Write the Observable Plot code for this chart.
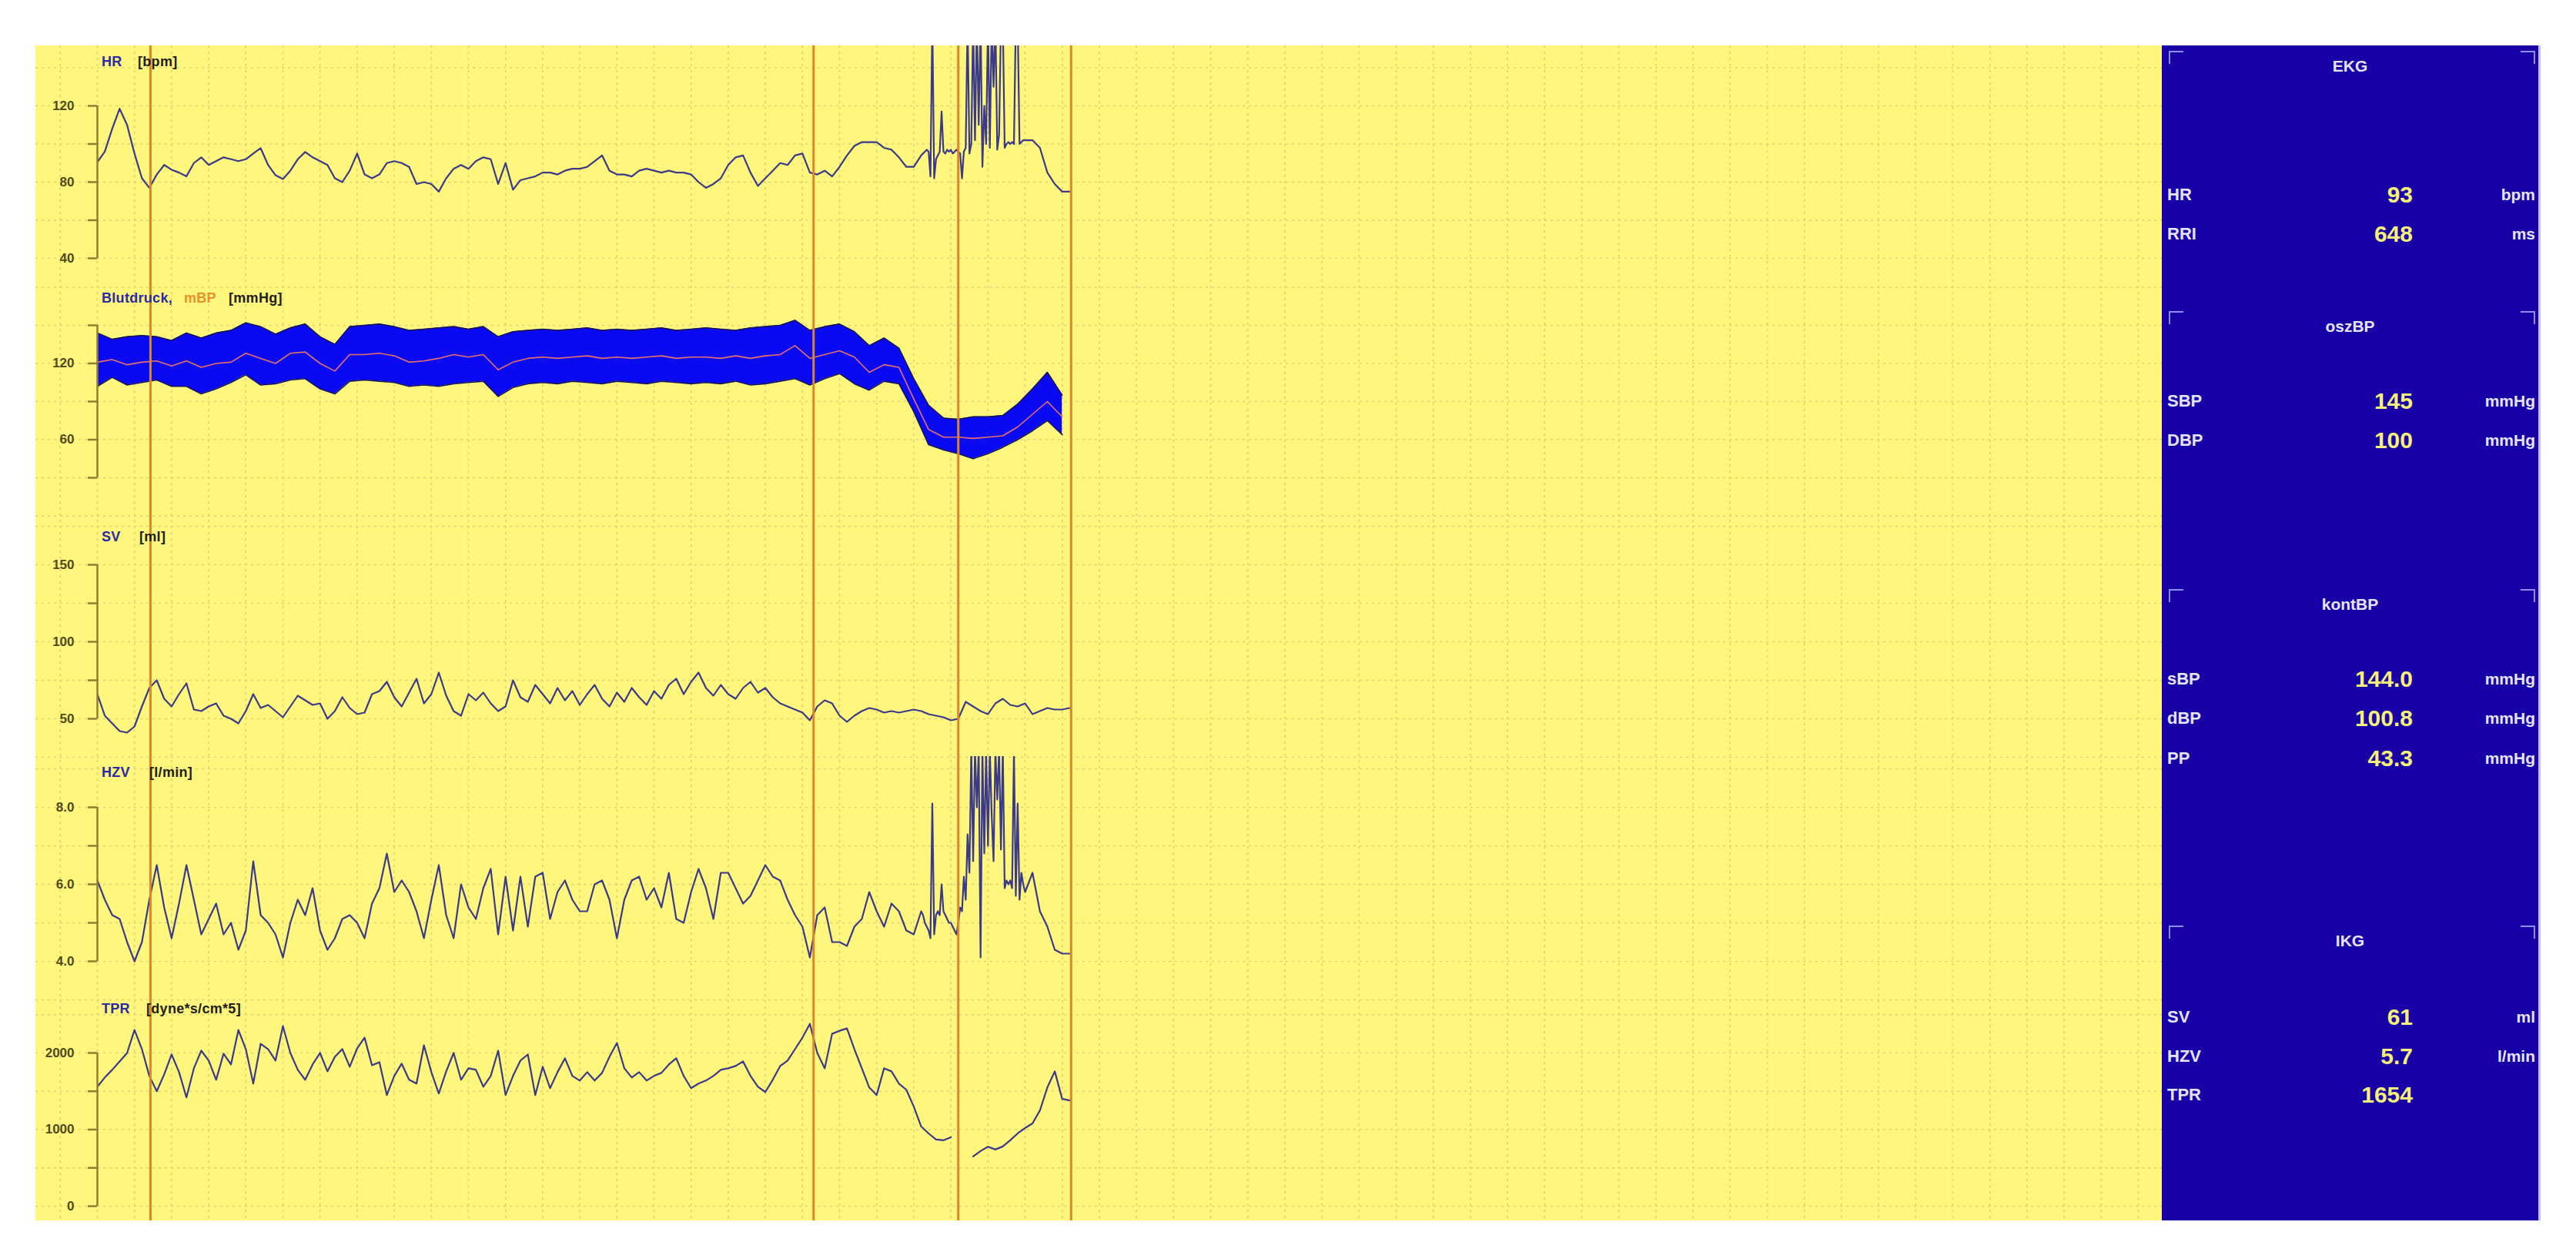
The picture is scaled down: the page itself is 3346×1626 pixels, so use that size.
<!DOCTYPE html>
<html>
<head>
<meta charset="utf-8">
<script src="https://cdn.jsdelivr.net/npm/d3@7"></script>
<script src="https://cdn.jsdelivr.net/npm/@observablehq/plot@0.6"></script>
<style>
  html, body { margin: 0; padding: 0; background: #ffffff; }
  body { width: 3346px; height: 1626px; position: relative; overflow: hidden; font-family: "Liberation Sans", Arial, sans-serif; }
  #chart { position: absolute; left: 46px; top: 59px; width: 2762px; height: 1526px; background: #FFF67E; overflow: hidden; }
  #chart svg { position: absolute; left: 0; top: 0; }
  .lbl { position: absolute; font-weight: bold; font-size: 18px; line-height: 18px; white-space: nowrap; letter-spacing: 0.3px; }
  #panel { position: absolute; left: 2808px; top: 59px; width: 489px; height: 1526px; background: #1800A6; border-right: 3px solid #c4bdf2; overflow: hidden; }
  .br { position: absolute; width: 17px; height: 15px; border-top: 2px solid #8d8df5; }
  .brl { border-left: 2px solid #8d8df5; }
  .brr { border-right: 2px solid #8d8df5; }
  .ptitle { position: absolute; left: 0; width: 489px; text-align: center; color: #e4e4fa; font-weight: bold; font-size: 21px; line-height: 22px; }
  .plab { position: absolute; left: 7px; color: #e4e4fa; font-weight: bold; font-size: 22px; line-height: 24px; }
  .pval { position: absolute; right: 163px; color: #f4f07a; font-weight: bold; font-size: 30px; line-height: 32px; text-align: right; }
  .punit { position: absolute; right: 4px; color: #e4e4fa; font-weight: bold; font-size: 21px; line-height: 24px; text-align: right; }
</style>
</head>
<body>
<div id="chart"></div>
<div id="panel"></div>
<script>
// ---------------- data (time in s) ----------------
const DT = 2;          // main samples: HR, SV, HZV, TPR (t = 0 .. 220 for HR/HZV, 0 .. 262 for SV/TPR)
const DT_BP = 4;       // blood pressure band (t = 0 .. 260)
const BURST_T0 = 222;  // arrhythmic burst, sampled finer
const DT_BURST = 0.5;  // t = 222 .. 250
const TAIL_T0 = 252;   // t = 252 .. 262, step DT

const hr = [
  90.5,96,108,118.5,110,95,82,77,84,89,
  86.5,85,83,90,93,89,91,93,92,91,
  92,95,97.8,89,83.6,81.6,86,92,95.8,93,
  91,89,82,80,86,95,84,82,84,90,
  91,90,88,79,80,79,75,82,87,89,
  87,91,93,92,79,90,76,81,82,83,
  85,85,84,86,87,87,88,91,94,86,
  84,84,83,86,87,86,85,86,85,85,
  84,80,77,79,82,89,93,94,85,78,
  82,86,90,89,94,95,85,84,86,83,
  88,94,99,101,101,101,98,97,93,88,
  88
];
const hrBurst = [
  94,95,96,97,96,83,165,82,92,94,
  96,117,96,95,97,96,97,95,96,97,
  96,95,82,96,98,165,95,100,165,102,
  165,110,165,88,120,100,165,98,165,130,
  165,97,105,165,165,98,100,101,100,101,
  100,165,165,100,101,102,102
];
const hrTail = [102,98,85,79,75,75];

const sbp = [
  144,139,141,142,141,138,144,140,144,146,
  152,149,143,148,151,141,135,149,150,151,
  149,146,147,148,149,147,149,141,145,146,
  147,146,147,148,146,147,146,147,148,146,
  147,148,147,146,148,149,150,154,146,149,
  151,145,134,140,132,108,87,77,76,78,
  78,79,88,100,113,95
];
const dbp = [
  102,109,103,105,107,102,102,96,100,105,
  111,103,104,107,108,100,96,106,107,106,
  105,102,103,102,104,105,106,94,101,104,
  105,104,106,105,104,106,105,104,106,105,
  104,105,104,106,103,104,106,108,103,108,
  112,104,99,106,104,82,56,52,49,45,
  49,54,60,67,75,64
];
const mbp = [
  121,123,119,121,122,118,122,117,120,121,
  128,124,120,128,129,120,114,127,127,128,
  126,121,122,124,127,125,127,115,121,124,
  125,124,125,126,124,125,124,125,126,124,
  125,125,124,126,124,126,127,134,124,127,
  130,125,113,119,117,92,68,62,62,61,
  62,63,70,80,90,78
];

const sv = [
  66,52,47,42,41,45,58,70,75,63,
  58,66,73,56,55,58,60,52,50,47,
  55,66,57,59,55,51,58,65,62,59,
  60,50,55,64,57,53,54,66,68,74,
  64,58,67,76,60,66,80,65,55,52,
  66,62,67,60,55,58,75,64,61,72,
  66,60,70,62,68,59,66,72,63,58,
  67,61,70,64,59,68,63,72,76,66,
  74,80,70,65,72,66,63,70,74,67,
  70,64,60,58,56,54,49,58,62,60,
  52,48,52,55,57,56,54,55,54,55,
  56,55,53,52,51,49,50,61,58,55,
  53,60,63,59,58,60,53,55,57,56,
  56,57
];

const hzv = [
  6.1,5.6,5.2,5.1,4.5,4.0,4.5,5.6,6.5,5.4,
  4.6,5.5,6.5,5.6,4.7,5.1,5.5,4.7,5.0,4.3,
  4.8,6.6,5.2,5.0,4.7,4.1,5.0,5.6,5.2,5.9,
  4.8,4.3,4.6,5.1,5.2,5.0,4.6,5.5,5.9,6.8,
  5.8,6.1,5.8,5.3,4.6,5.6,6.5,5.2,4.6,6.0,
  5.4,5.1,5.9,6.4,4.7,6.2,4.8,6.2,4.9,6.2,
  6.3,5.1,5.8,6.1,5.6,5.3,5.3,6.0,6.1,5.6,
  4.6,5.6,6.1,6.2,5.6,5.9,5.4,6.3,5.1,5.0,
  5.8,6.4,5.9,5.1,6.3,6.3,5.9,5.5,5.7,6.1,
  6.5,6.2,6.1,5.6,5.2,4.9,4.1,5.2,5.4,4.5,
  4.5,4.4,4.9,5.1,5.8,5.3,4.9,5.5,5.3,4.8,
  4.7
];
const hzvBurst = [
  5.3,5.2,5.0,4.9,4.8,4.6,8.1,4.7,5.2,5.3,
  5.2,6.0,5.3,5.2,5.1,5.0,5.0,4.9,4.8,4.7,
  5.0,5.4,5.3,6.2,5.6,7.3,6.3,9.5,6.6,9.5,
  8.0,9.5,4.1,9.5,6.8,9.5,7.0,9.5,7.8,6.6,
  9.5,8.2,9.5,6.9,9.5,5.9,6.1,6.0,6.1,5.9,
  9.5,5.7,8.1,5.6,6.3,6.0,5.8
];
const hzvTail = [6.3,5.3,4.9,4.3,4.2,4.2];

const tpr = [
  1560,1680,1780,1890,2000,2300,2050,1700,1500,1720,
  1980,1750,1420,1800,2030,1900,1650,1990,1850,2300,
  2050,1600,2120,2050,1900,2350,2000,1780,1650,1850,
  2000,1760,1950,2050,1820,2060,2200,1840,1880,1450,
  1700,1860,1650,1600,2100,1750,1470,1760,2000,1650,
  1800,1780,1560,1700,2030,1450,1700,1900,1980,1450,
  1820,1540,1750,1930,1700,1640,1750,1640,1740,1950,
  2130,1800,1680,1750,1640,1700,1740,1850,1930,1700,
  1540,1600,1640,1700,1780,1800,1830,1890,1700,1560,
  1490,1650,1830,1900,2050,2200,2380,2000,1800,2250,
  2290,2320,2050,1800,1550,1450,1800,1760,1600,1520,
  1300,1040,950,870,860,900,null,null,650,720,
  776,740,780,860,950,1020,1080,1250,1550,1760,
  1400,1380
];

const eventTimes = [14.3, 193, 232, 262.4];

// axis ticks and labels per panel
const hrTicks = [120,100,80,60,40],        hrLabels = [120,80,40];
const bpTicks = [150,120,90,60,30],        bpLabels = [120,60];
const svTicks = [150,125,100,75,50],       svLabels = [150,100,50];
const hzvTicks = [8,7,6,5,4],              hzvLabels = [8,6,4];
const tprTicks = [2000,1500,1000,500,0],   tprLabels = [2000,1000,0];

// side panel
const panelTitles = ["EKG", "oszBP", "kontBP", "IKG"];
const panelNames  = [["HR","RRI"], ["SBP","DBP"], ["sBP","dBP","PP"], ["SV","HZV","TPR"]];
const panelValues = [["93","648"], ["145","100"], ["144.0","100.8","43.3"], ["61","5.7","1654"]];
const panelUnits  = [["bpm","ms"], ["mmHg","mmHg"], ["mmHg","mmHg","mmHg"], ["ml","l/min",""]];

// ---------------- layout ----------------
const W = 2762, H = 1526;
const AXIS_X = 80;
const PX_PER_S = 4.82;
const T_MIN = -AXIS_X / PX_PER_S;
const T_MAX = (W - AXIS_X) / PX_PER_S;

const GRID = "#ddd178";
const AXIS_COLOR = "#8c8030";
const TICK_TEXT = "#4f4a1a";
const LINE = "#3a3a88";
const EVENT = "#d8882a";

const rows = (arr, dt, t0 = 0) => arr.map((v, i) => ({t: t0 + i * dt, v}));
const hrRows = [...rows(hr, DT), ...rows(hrBurst, DT_BURST, BURST_T0), ...rows(hrTail, DT, TAIL_T0)];
const hzvRows = [...rows(hzv, DT), ...rows(hzvBurst, DT_BURST, BURST_T0), ...rows(hzvTail, DT, TAIL_T0)];
const svRows = rows(sv, DT), tprRows = rows(tpr, DT);
const bpRows = sbp.map((s, i) => ({t: i * DT_BP, sys: s, dia: dbp[i], mean: mbp[i]}));

const baseStyle = {background: "transparent", position: "absolute", left: "0px", top: "0px",
                   fontFamily: "Liberation Sans, Arial, sans-serif"};

function panelPlot(p, dataMarks) {
  return Plot.plot({
    width: W, height: H,
    marginLeft: AXIS_X, marginRight: 0,
    marginTop: p.frame[0], marginBottom: H - p.frame[1],
    x: {domain: [0, T_MAX], axis: null},
    y: {domain: p.domain, range: p.range},
    style: baseStyle,
    marks: [
      Plot.ruleY(p.grid, {x1: T_MIN, x2: T_MAX, stroke: GRID, strokeWidth: 1.6, strokeDasharray: "3,5"}),
      ...dataMarks,
      Plot.ruleX([0], {y1: p.domain[0], y2: p.domain[1], stroke: AXIS_COLOR, strokeWidth: 2.5}),
      Plot.axisY({ticks: p.ticks, tickSize: 12, tickPadding: 18, stroke: AXIS_COLOR, strokeWidth: 2.5,
                  fill: TICK_TEXT, fontSize: 17, fontWeight: "bold", label: null,
                  tickFormat: d => p.labels.includes(d) ? p.fmt(d) : ""})
    ]
  });
}

const chart = document.getElementById("chart");

// vertical grid (every 10 s)
chart.appendChild(Plot.plot({
  width: W, height: H, marginLeft: AXIS_X, marginRight: 0, marginTop: 0, marginBottom: 0,
  x: {domain: [0, T_MAX], axis: null},
  style: baseStyle,
  marks: [Plot.ruleX(d3.range(-10, T_MAX, 10), {stroke: GRID, strokeWidth: 1.6, strokeDasharray: "3,5"})]
}));

const lineOpts = {x: "t", y: "v", stroke: LINE, strokeWidth: 2.2, clip: true};

chart.appendChild(panelPlot(
  {frame: [0, 313], domain: [40, 120], range: [276, 78], grid: [140,120,100,80,60,40],
   ticks: hrTicks, labels: hrLabels, fmt: String},
  [Plot.line(hrRows, lineOpts)]));

chart.appendChild(panelPlot(
  {frame: [313, 617], domain: [30, 150], range: [561, 363], grid: [180,150,120,90,60,30,0],
   ticks: bpTicks, labels: bpLabels, fmt: String},
  [Plot.areaY(bpRows, {x: "t", y1: "dia", y2: "sys", fill: "#0a0af2", clip: true}),
   Plot.line(bpRows, {x: "t", y: "sys", stroke: "#14145c", strokeWidth: 1.6, clip: true}),
   Plot.line(bpRows, {x: "t", y: "dia", stroke: "#14145c", strokeWidth: 1.6, clip: true}),
   Plot.line(bpRows, {x: "t", y: "mean", stroke: "#e8706a", strokeWidth: 1.6, clip: true})]));

chart.appendChild(panelPlot(
  {frame: [617, 923], domain: [50, 150], range: [874, 674], grid: [175,150,125,100,75,50,25],
   ticks: svTicks, labels: svLabels, fmt: String},
  [Plot.line(svRows, lineOpts)]));

chart.appendChild(panelPlot(
  {frame: [923, 1246], domain: [4, 8], range: [1189, 989], grid: [9,8,7,6,5,4,3],
   ticks: hzvTicks, labels: hzvLabels, fmt: d => d.toFixed(1)},
  [Plot.line(hzvRows, lineOpts)]));

chart.appendChild(panelPlot(
  {frame: [1246, 1526], domain: [0, 2000], range: [1507, 1308], grid: [2500,2000,1500,1000,500,0],
   ticks: tprTicks, labels: tprLabels, fmt: String},
  [Plot.line(tprRows, lineOpts)]));

// event markers
chart.appendChild(Plot.plot({
  width: W, height: H, marginLeft: AXIS_X, marginRight: 0, marginTop: 0, marginBottom: 0,
  x: {domain: [0, T_MAX], axis: null},
  style: baseStyle,
  marks: [Plot.ruleX(eventTimes, {stroke: EVENT, strokeWidth: 3})]
}));

// channel titles (positions relative to the chart box)
const BLUE_T = "#2a2aa2", DARK_T = "#1e1e14", ORANGE_T = "#e8902a";
const titles = [
  {y: 21,   parts: [["HR", BLUE_T, 86], ["[bpm]", DARK_T, 133]]},
  {y: 328,  parts: [["Blutdruck,", BLUE_T, 86], ["mBP", ORANGE_T, 193], ["[mmHg]", DARK_T, 251]]},
  {y: 638,  parts: [["SV", BLUE_T, 86], ["[ml]", DARK_T, 135]]},
  {y: 944,  parts: [["HZV", BLUE_T, 86], ["[l/min]", DARK_T, 148]]},
  {y: 1251, parts: [["TPR", BLUE_T, 86], ["[dyne*s/cm*5]", DARK_T, 144]]}
];
for (const tt of titles) {
  for (const [txt, col, x] of tt.parts) {
    const d = document.createElement("div");
    d.className = "lbl";
    d.textContent = txt;
    d.style.left = x + "px";
    d.style.top = (tt.y - 9) + "px";
    d.style.color = col;
    chart.appendChild(d);
  }
}

// side panel
const panel = document.getElementById("panel");
const sectionTop = [7, 345, 706, 1143];
const rowY = [[194, 245], [462, 513], [823, 874, 926], [1262, 1313, 1363]];
function add(cls, txt, styles) {
  const d = document.createElement("div");
  d.className = cls;
  d.textContent = txt;
  Object.assign(d.style, styles);
  panel.appendChild(d);
}
panelTitles.forEach((title, s) => {
  add("br brl", "", {left: "9px", top: sectionTop[s] + "px"});
  add("br brr", "", {right: "4px", top: sectionTop[s] + "px"});
  add("ptitle", title, {top: (sectionTop[s] + 9) + "px"});
  panelNames[s].forEach((nm, r) => {
    const cy = rowY[s][r];
    add("plab", nm, {top: (cy - 12) + "px"});
    add("pval", panelValues[s][r], {top: (cy - 16) + "px"});
    if (panelUnits[s][r]) add("punit", panelUnits[s][r], {top: (cy - 12) + "px"});
  });
});
</script>
</body>
</html>
